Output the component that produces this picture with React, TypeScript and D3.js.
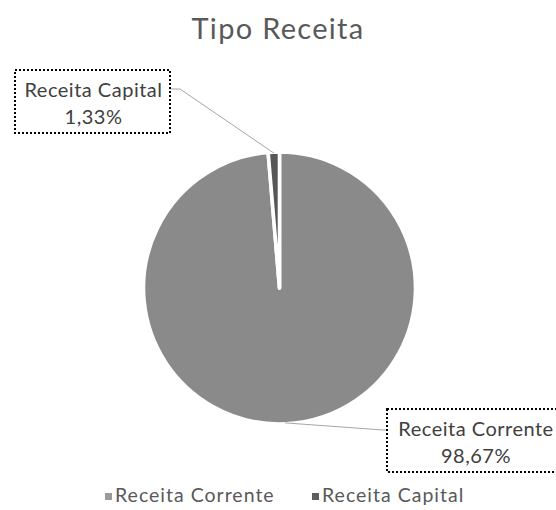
import React from "react";
import * as d3 from "d3";

const title = "Tipo Receita";
const categories = ["Receita Corrente", "Receita Capital"];
const values = [98.67, 1.33];
const percentLabels = ["98,67%", "1,33%"];
const colors = ["#8a8a8a", "#575757"];
const legendColors = ["#9a9a9a", "#5e5e5e"];

const W = 556;
const H = 510;
const cx = 279.5;
const cy = 288;
const R = 136;
const FONT = "Lato, 'Open Sans', sans-serif";

// label box layout (position only)
const labelBoxes = [
  { x: 387, y: 409, w: 176, h: 63, elbowX: 383, attachY: 430 },
  { x: 15, y: 70, w: 155, h: 63, elbowX: 180, attachY: 89 },
];

export default function App() {
  const data = categories.map((c, i) => ({ name: c, value: values[i], pct: percentLabels[i] }));
  const pie = d3
    .pie<any>()
    .value((d) => d.value)
    .sort(null)
    .startAngle(0)
    .endAngle(2 * Math.PI);
  const arcs = pie(data);
  const arc = d3.arc<any>().innerRadius(0).outerRadius(R);

  const legendItems = [
    { x: 105, textX: 115 },
    { x: 312, textX: 322 },
  ];

  return (
    <svg
      width={W}
      height={H}
      style={{ position: "absolute", left: 0, top: 0, display: "block", background: "#fff" }}
    >
      <text
        x={278}
        y={38.5}
        textAnchor="middle"
        fontFamily={FONT}
        fontSize={29}
        letterSpacing={1.3}
        fill="#595959"
      >
        {title}
      </text>
      <g transform={`translate(${cx},${cy})`}>
        {arcs.map((a, i) => (
          <path key={i} d={arc(a) || ""} fill={colors[i]} stroke="#fff" strokeWidth={3.6} strokeLinejoin="round" />
        ))}
      </g>
      {arcs.map((a, i) => {
        const mid = (a.startAngle + a.endAngle) / 2;
        const px = cx + Math.sin(mid) * (R - 1);
        const py = cy - Math.cos(mid) * (R - 1);
        const b = labelBoxes[i];
        const edgeX = i === 0 ? b.x : b.x + b.w;
        const tcx = b.x + (i === 0 ? 89 : b.w / 2 + 1);
        return (
          <g key={"lab" + i}>
            <polyline
              points={`${px},${py} ${b.elbowX},${b.attachY} ${edgeX},${b.attachY}`}
              fill="none"
              stroke="#a6a6a6"
              strokeWidth={1}
            />
            <rect
              x={b.x}
              y={b.y}
              width={b.w}
              height={b.h}
              fill="#fff"
              stroke="#000"
              strokeWidth={2}
              strokeDasharray="2 2"
            />
            <text x={tcx} y={b.y + 27} textAnchor="middle" fontFamily={FONT} fontSize={20} letterSpacing={0.5} fill="#404040">
              {a.data.name}
            </text>
            <text x={tcx} y={b.y + 54} textAnchor="middle" fontFamily={FONT} fontSize={20} letterSpacing={0.5} fill="#404040">
              {a.data.pct}
            </text>
          </g>
        );
      })}
      {categories.map((c, i) => (
        <g key={"leg" + i}>
          <rect x={legendItems[i].x} y={493} width={7} height={7} fill={legendColors[i]} />
          <text x={legendItems[i].textX} y={502} fontFamily={FONT} fontSize={19.5} fill="#595959" letterSpacing={1}>
            {c}
          </text>
        </g>
      ))}
    </svg>
  );
}
